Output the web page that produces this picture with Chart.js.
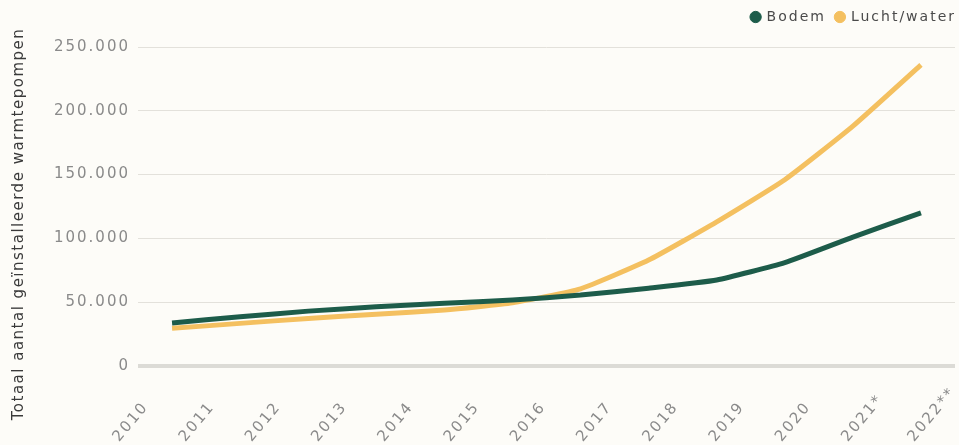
<!DOCTYPE html>
<html>
<head>
<meta charset="utf-8">
<script src="https://cdn.jsdelivr.net/npm/chart.js@4.4.1/dist/chart.umd.min.js"></script>
<style>
  html, body { margin: 0; padding: 0; background: #fdfcf8; }
  .wrap { position: relative; width: 959px; height: 445px; }
</style>
</head>
<body>
<div class="wrap"><canvas id="c"></canvas></div>
<script>
// jaren op de x-as (13 labels), de lijnen lopen van 2011 t/m 2022**
const YEARS = ['2010', '2011', '2012', '2013', '2014', '2015', '2016', '2017', '2018', '2019', '2020', '2021*', '2022**'];
const DATA_YEARS = YEARS.slice(1);
const BODEM = [33700, 38600, 43000, 46400, 49100, 51700, 55600, 61000, 67400, 81000, 101000, 120000];
const LUCHT_WATER = [29500, 33400, 37300, 40500, 43900, 49500, 60500, 83000, 113000, 146000, 188000, 236000];
const Y_TICKS = [0, 50000, 100000, 150000, 200000, 250000];
const Y_TITLE = 'Totaal aantal geïnstalleerde warmtepompen';

const GREEN = '#1d5c4a';
const YELLOW = '#f4c060';
const FONT = 'DejaVu Sans';
const SPACING = '2px';

function nl(v) {
  return String(v).replace(/\B(?=(\d{3})+(?!\d))/g, '.');
}

// labels staan in het origineel links-onder uitgelijnd: aanvullen met en-spaties
const longest = Math.max(...YEARS.map((y) => y.length));
const padLabel = (s) => s + '\u2002'.repeat(longest - s.length);

// wijde letters zoals in het origineel + extra ruimte onder de legenda
const tweaks = {
  id: 'tweaks',
  beforeLayout(c) {
    c.ctx.letterSpacing = SPACING;
    const lg = c.legend;
    if (lg && !lg._extra) {
      const fit = lg.fit.bind(lg);
      lg.fit = function () { fit(); this.height += 13; };
      lg._extra = true;
    }
  },
  afterLayout(c) {
    // legenda tot tegen de rechterrand, zoals in het origineel
    if (c.legend) { c.legend.left += 7; c.legend.right += 7; }
  },
  beforeDraw(c) { c.ctx.letterSpacing = SPACING; },
};

// as-titel zelf tekenen, zodat hij op dezelfde hoogte staat als in het origineel
const yTitle = {
  id: 'yTitle',
  afterDraw(c) {
    const ctx = c.ctx;
    ctx.save();
    ctx.letterSpacing = '1.5px';
    ctx.translate(19, 224);
    ctx.rotate(-Math.PI / 2);
    ctx.textAlign = 'center';
    ctx.textBaseline = 'middle';
    ctx.fillStyle = '#3a3a3a';
    ctx.font = `15px "${FONT}"`;
    ctx.fillText(Y_TITLE, 0, 0);
    ctx.restore();
  },
};

new Chart(document.getElementById('c'), {
  type: 'line',
  data: {
    labels: DATA_YEARS,
    datasets: [
      { label: 'Bodem', data: BODEM, borderColor: GREEN, backgroundColor: GREEN },
      { label: 'Lucht/water', data: LUCHT_WATER, borderColor: YELLOW, backgroundColor: YELLOW },
    ],
  },
  options: {
    responsive: true, maintainAspectRatio: false, animation: false,
    elements: { line: { borderWidth: 5, tension: 0.15 }, point: { radius: 0 } },
    layout: { padding: 0 },
    plugins: {
      tooltip: { enabled: false },
      legend: {
        position: 'top', align: 'end',
        labels: {
          usePointStyle: true, pointStyle: 'circle', boxWidth: 8, boxHeight: 8,
          color: '#4a4a4a', font: { family: FONT, size: 14 }, padding: 10,
        },
      },
    },
    scales: {
      x: { type: 'category', labels: DATA_YEARS, offset: true, display: false },
      // labels staan iets anders verdeeld dan de punten, zoals in het origineel
      xl: {
        type: 'linear', position: 'bottom', min: -0.302, max: 12.03,
        afterBuildTicks(s) { s.ticks = YEARS.map((_, i) => ({ value: i })); },
        grid: { display: false }, border: { display: false },
        ticks: {
          autoSkip: false, minRotation: 50, maxRotation: 50, padding: 10,
          color: '#8a8a8a', font: { family: FONT, size: 15 },
          callback: (v) => padLabel(YEARS[v]),
        },
        afterFit(s) { s.height = 79; s.paddingLeft = 0; s.paddingRight = 4; },
      },
      y: {
        min: 0, max: 250000,
        afterBuildTicks(s) { s.ticks = Y_TICKS.map((v) => ({ value: v })); },
        border: { display: false },
        grid: {
          drawTicks: false,
          color: (ctx) => (ctx.tick && ctx.tick.value === 0 ? '#dcdbd6' : '#e3e1db'),
          lineWidth: (ctx) => (ctx.tick && ctx.tick.value === 0 ? 4 : 1),
        },
        ticks: {
          padding: 8, color: '#8a8a8a', font: { family: FONT, size: 15 },
          callback: (v) => nl(v),
        },
        afterFit(s) { s.width = 138; },
      },
    },
  },
  plugins: [tweaks, yTitle],
});
</script>
</body>
</html>
